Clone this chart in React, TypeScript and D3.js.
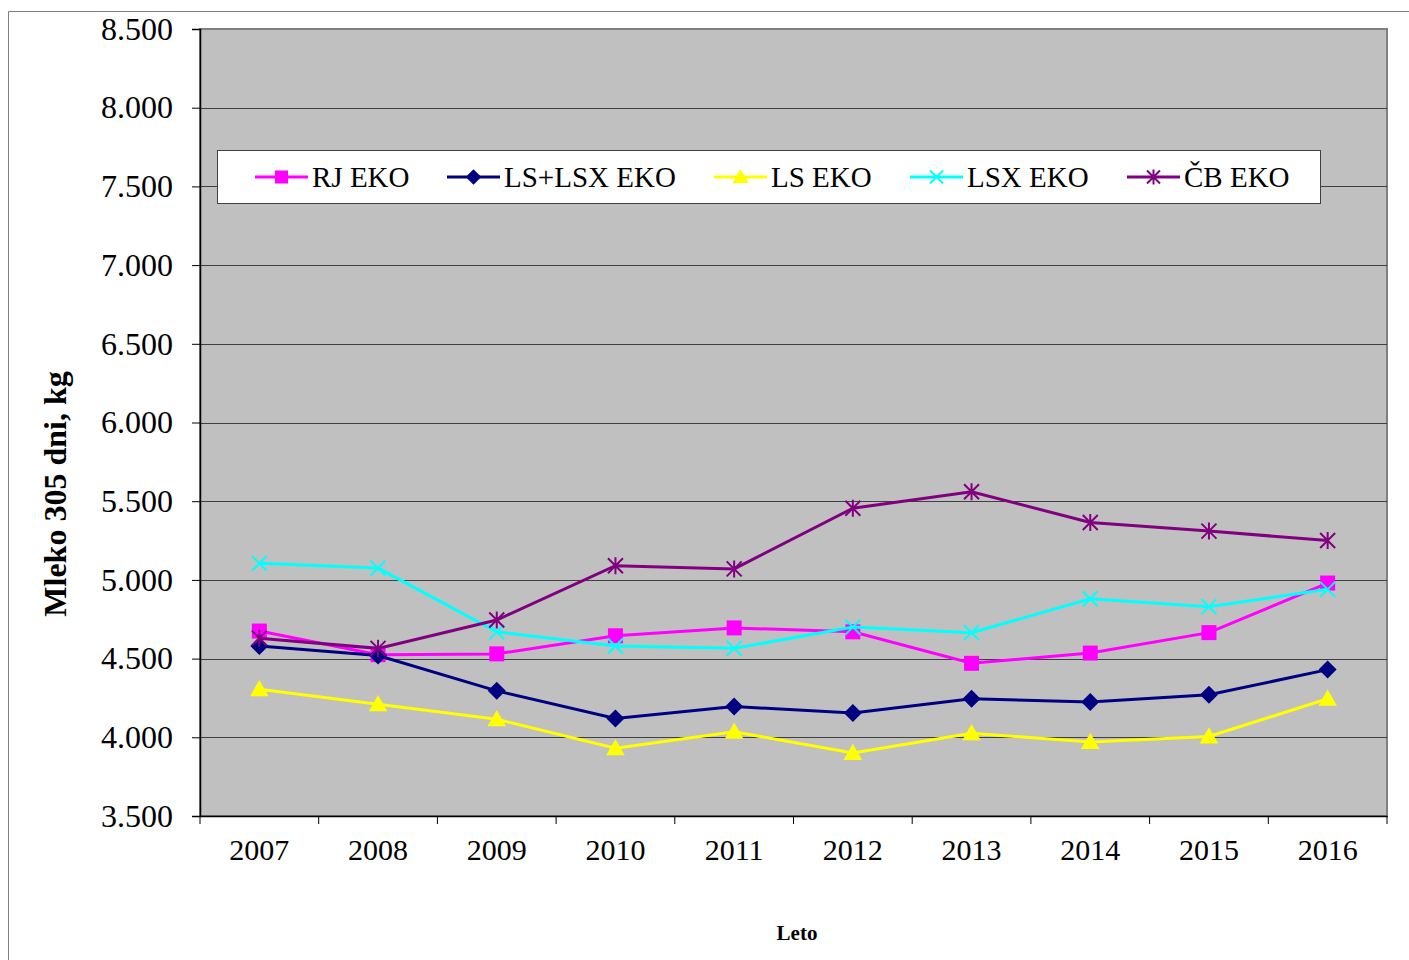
import React, { useEffect, useRef } from 'react';
import * as d3 from 'd3';

const years = ['2007', '2008', '2009', '2010', '2011', '2012', '2013', '2014', '2015', '2016'];
const yTicks = [3500, 4000, 4500, 5000, 5500, 6000, 6500, 7000, 7500, 8000, 8500];

const rjEko = [4675, 4525, 4530, 4645, 4695, 4670, 4470, 4535, 4665, 4980];
const lsLsxEko = [4580, 4520, 4295, 4120, 4195, 4155, 4245, 4225, 4270, 4430];
const lsEko = [4305, 4210, 4115, 3930, 4035, 3900, 4025, 3970, 4005, 4245];
const lsxEko = [5105, 5075, 4670, 4580, 4565, 4700, 4665, 4880, 4830, 4940];
const cbEko = [4630, 4565, 4745, 5090, 5070, 5455, 5560, 5365, 5310, 5250];

const seriesNames = ['RJ EKO', 'LS+LSX EKO', 'LS EKO', 'LSX EKO', 'ČB EKO'];
const seriesColors = ['#ff00ff', '#000080', '#ffff00', '#00ffff', '#800080'];
const seriesMarkers = ['square', 'diamond', 'triangle', 'x', 'star'];

function drawMarker(g: d3.Selection<SVGGElement, unknown, null, undefined>, kind: string, x: number, y: number, color: string, s: number) {
  if (kind === 'square') {
    g.append('rect').attr('x', x - s / 2).attr('y', y - s / 2).attr('width', s).attr('height', s).attr('fill', color);
  } else if (kind === 'diamond') {
    const r = s * 0.6;
    g.append('path').attr('d', `M${x},${y - r}L${x + r},${y}L${x},${y + r}L${x - r},${y}Z`).attr('fill', color);
  } else if (kind === 'triangle') {
    const r = s * 0.62;
    g.append('path').attr('d', `M${x},${y - r}L${x + r},${y + r * 0.75}L${x - r},${y + r * 0.75}Z`).attr('fill', color);
  } else if (kind === 'x') {
    const r = s / 2;
    g.append('path').attr('d', `M${x - r},${y - r}L${x + r},${y + r}M${x - r},${y + r}L${x + r},${y - r}`)
      .attr('stroke', color).attr('stroke-width', 2).attr('fill', 'none');
  } else {
    const r = s / 2;
    g.append('path').attr('d', `M${x - r},${y - r}L${x + r},${y + r}M${x - r},${y + r}L${x + r},${y - r}M${x},${y - r - 1}L${x},${y + r + 1}`)
      .attr('stroke', color).attr('stroke-width', 2).attr('fill', 'none');
  }
}

export default function App() {
  const svgRef = useRef<SVGSVGElement>(null);

  useEffect(() => {
    if (!svgRef.current) return;
    const svg = d3.select(svgRef.current);
    svg.selectAll('*').remove();

    const width = 1409;
    const height = 960;
    const margin = { top: 29, right: 22, bottom: 144, left: 200 };
    const font = '"Liberation Serif", "Times New Roman", serif';

    // outer frame
    svg.append('path').attr('d', `M8.5,${height}L8.5,11.5L${width},11.5`)
      .attr('stroke', '#808080').attr('fill', 'none');

    const x = d3.scaleBand()
      .domain(years)
      .range([margin.left, width - margin.right]);

    const y = d3.scaleLinear()
      .domain([3500, 8500])
      .range([height - margin.bottom, margin.top]);

    svg.append('rect')
      .attr('x', margin.left).attr('y', margin.top)
      .attr('width', width - margin.right - margin.left)
      .attr('height', height - margin.bottom - margin.top)
      .attr('fill', '#c0c0c0')
      .attr('stroke', '#808080').attr('stroke-width', 2);

    // gridlines
    svg.append('g').selectAll('line')
      .data(yTicks.slice(1, -1))
      .enter()
      .append('line')
      .attr('x1', margin.left).attr('x2', width - margin.right)
      .attr('y1', d => Math.round(y(d)) + 0.5).attr('y2', d => Math.round(y(d)) + 0.5)
      .attr('stroke', '#404040').attr('stroke-width', 1);

    // y axis
    const yAxis = svg.append('g')
      .attr('transform', `translate(${margin.left},0)`)
      .call(d3.axisLeft(y).tickValues(yTicks).tickSize(8).tickPadding(19)
        .tickFormat(d => d3.format(',')(d as number).replace(',', '.')));
    yAxis.select('.domain').attr('stroke', '#000').attr('stroke-width', 1.5);
    yAxis.selectAll('.tick line').attr('stroke', '#000');
    yAxis.selectAll('text').style('font-family', font).style('font-size', '32px').attr('fill', '#000');

    // x axis
    const xAxis = svg.append('g')
      .attr('transform', `translate(0,${height - margin.bottom})`)
      .call(d3.axisBottom(x).tickSize(0).tickPadding(23));
    xAxis.select('.domain').attr('stroke', '#000').attr('stroke-width', 1.5);
    xAxis.selectAll('text').style('font-family', font).style('font-size', '30px').attr('fill', '#000');
    xAxis.selectAll('.tickmark')
      .data(d3.range(years.length + 1))
      .enter()
      .append('line')
      .attr('x1', i => margin.left + i * x.step()).attr('x2', i => margin.left + i * x.step())
      .attr('y1', 0).attr('y2', 8).attr('stroke', '#000');

    // series
    const allSeries = [rjEko, lsLsxEko, lsEko, lsxEko, cbEko];
    const line = d3.line<number>()
      .x((d, i) => x(years[i])! + x.bandwidth() / 2)
      .y(d => y(d));

    allSeries.forEach((vals, si) => {
      const g = svg.append('g');
      g.append('path')
        .attr('d', line(vals)!)
        .attr('fill', 'none')
        .attr('stroke', seriesColors[si])
        .attr('stroke-width', 3);
      vals.forEach((v, i) => {
        drawMarker(g, seriesMarkers[si], x(years[i])! + x.bandwidth() / 2, y(v), seriesColors[si], 15);
      });
    });

    // legend
    const legend = svg.append('g');
    legend.append('rect')
      .attr('x', 217.5).attr('y', 150.5).attr('width', 1103).attr('height', 53)
      .attr('fill', '#fff').attr('stroke', '#404040');
    const legendX = [255, 447, 714, 910, 1127];
    seriesNames.forEach((name, i) => {
      const lx = legendX[i];
      const ly = 177;
      legend.append('line').attr('x1', lx).attr('x2', lx + 53).attr('y1', ly).attr('y2', ly)
        .attr('stroke', seriesColors[i]).attr('stroke-width', 3);
      drawMarker(legend, seriesMarkers[i], lx + 26.5, ly, seriesColors[i], 13);
      legend.append('text')
        .attr('x', lx + 57).attr('y', ly + 10)
        .style('font-family', font).style('font-size', '29px')
        .text(name);
    });

    // axis titles
    svg.append('text')
      .attr('transform', `translate(66,494) rotate(-90)`)
      .attr('text-anchor', 'middle')
      .style('font-family', font).style('font-size', '32px').style('font-weight', 'bold')
      .text('Mleko 305 dni, kg');

    svg.append('text')
      .attr('x', 797).attr('y', 940)
      .attr('text-anchor', 'middle')
      .style('font-family', font).style('font-size', '21px').style('font-weight', 'bold')
      .text('Leto');
  }, []);

  return (
    <svg ref={svgRef} width={1409} height={960} style={{ position: 'absolute', left: 0, top: 0 }}></svg>
  );
}
